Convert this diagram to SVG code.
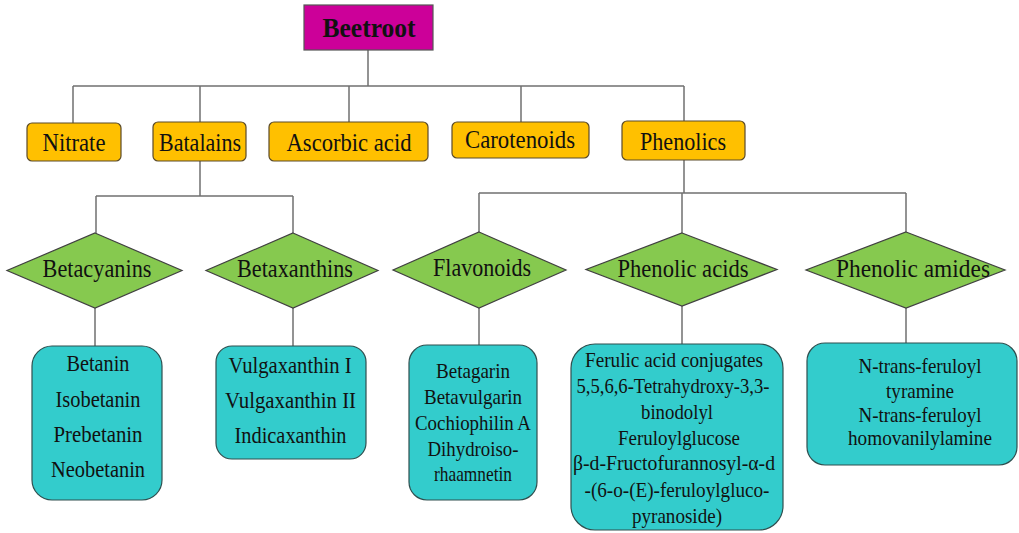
<svg xmlns="http://www.w3.org/2000/svg" width="1019" height="533" viewBox="0 0 1019 533">
<style>
.ln{stroke:#707070;stroke-width:1.5;fill:none}
.root{fill:#CC0099;stroke:#555;stroke-width:1.2}
.cat{fill:#FFC000;stroke:#5a4a2a;stroke-width:1.2}
.dia{fill:#86C94F;stroke:#404040;stroke-width:1.2}
.leaf{fill:#33CCCC;stroke:#2f4f4f;stroke-width:1.2}
text{font-family:"Liberation Serif","Times New Roman",serif;fill:#111;text-anchor:middle}
.t1{font-size:25px}
.t2{font-size:25px}
.t3{font-size:24px}
.t4{font-size:22px}
</style>
<rect width="1019" height="533" fill="#ffffff"/>
<g id="connectors">
<path class="ln" d="M368 50V86M73 86H684M73 86V123M200 86V122M349 86V122M521 86V122M684 86V121"/>
<path class="ln" d="M200 161V196M96 196H293M96 196V233M293 196V233"/>
<path class="ln" d="M684 160V193M479 193H906M479 193V232M682 193V233M906 193V232"/>
<path class="ln" d="M95 308V346M293 308V346M479 308V345M682 306V344M906 308V343"/>
</g>
<g id="beetroot"><rect class="root" x="304" y="5" width="129" height="45"/><text x="369" y="37" style="font-size:28px;font-weight:bold" textLength="93" lengthAdjust="spacingAndGlyphs">Beetroot</text></g>
<g id="nitrate"><rect class="cat" x="27" y="123" width="94" height="38" rx="5"/><text class="t1" x="74" y="151" textLength="63" lengthAdjust="spacingAndGlyphs">Nitrate</text></g>
<g id="batalains"><rect class="cat" x="153" y="122" width="93" height="39" rx="5"/><text class="t1" x="200" y="151" textLength="82" lengthAdjust="spacingAndGlyphs">Batalains</text></g>
<g id="ascorbic"><rect class="cat" x="269" y="122" width="159" height="39" rx="5"/><text class="t1" x="349" y="151" textLength="125" lengthAdjust="spacingAndGlyphs">Ascorbic acid</text></g>
<g id="carotenoids"><rect class="cat" x="452" y="122" width="137" height="36" rx="5"/><text class="t1" x="520" y="148" textLength="110" lengthAdjust="spacingAndGlyphs">Carotenoids</text></g>
<g id="phenolics"><rect class="cat" x="622" y="121" width="123" height="39" rx="5"/><text class="t1" x="683" y="150" textLength="86" lengthAdjust="spacingAndGlyphs">Phenolics</text></g>
<g id="betacyanins"><polygon class="dia" points="95,233 182,270.5 95,308 7,270.5"/><text class="t2" x="97" y="277" textLength="109" lengthAdjust="spacingAndGlyphs">Betacyanins</text></g>
<g id="betaxanthins"><polygon class="dia" points="293,233 378,270.5 293,308 206,270.5"/><text class="t2" x="295" y="277" textLength="116" lengthAdjust="spacingAndGlyphs">Betaxanthins</text></g>
<g id="flavonoids"><polygon class="dia" points="479,232 566,270 479,308 393,270"/><text class="t2" x="482" y="276" textLength="98" lengthAdjust="spacingAndGlyphs">Flavonoids</text></g>
<g id="phenolic-acids"><polygon class="dia" points="682,233 777,269.5 682,306 586,269.5"/><text class="t2" x="683" y="277" textLength="131" lengthAdjust="spacingAndGlyphs">Phenolic acids</text></g>
<g id="phenolic-amides"><polygon class="dia" points="906,232 1005,270 906,308 806,270"/><text class="t2" x="913" y="277" textLength="154" lengthAdjust="spacingAndGlyphs">Phenolic amides</text></g>
<g id="betacyanins-list"><rect class="leaf" x="32" y="346" width="130" height="154" rx="20"/>
<text class="t3" x="98" y="371" textLength="63" lengthAdjust="spacingAndGlyphs">Betanin</text><text class="t3" x="98" y="407" textLength="85" lengthAdjust="spacingAndGlyphs">Isobetanin</text><text class="t3" x="98" y="442" textLength="89" lengthAdjust="spacingAndGlyphs">Prebetanin</text><text class="t3" x="98" y="477" textLength="94" lengthAdjust="spacingAndGlyphs">Neobetanin</text></g>
<g id="betaxanthins-list"><rect class="leaf" x="216" y="346" width="150" height="113" rx="16"/>
<text class="t3" x="290" y="373" textLength="123" lengthAdjust="spacingAndGlyphs">Vulgaxanthin I</text><text class="t3" x="290.5" y="408" textLength="131" lengthAdjust="spacingAndGlyphs">Vulgaxanthin II</text><text class="t3" x="290.5" y="443" textLength="112" lengthAdjust="spacingAndGlyphs">Indicaxanthin</text></g>
<g id="flavonoids-list"><rect class="leaf" x="409" y="345" width="128" height="155" rx="18"/>
<text class="t4" x="473" y="378" textLength="74" lengthAdjust="spacingAndGlyphs">Betagarin</text><text class="t4" x="473" y="404" textLength="98" lengthAdjust="spacingAndGlyphs">Betavulgarin</text><text class="t4" x="473" y="430" textLength="116" lengthAdjust="spacingAndGlyphs">Cochiophilin A</text><text class="t4" x="473" y="456" textLength="91" lengthAdjust="spacingAndGlyphs">Dihydroiso-</text><text class="t4" x="473" y="481" textLength="78" lengthAdjust="spacingAndGlyphs">rhaamnetin</text></g>
<g id="phenolic-acids-list"><rect class="leaf" x="571" y="344" width="212" height="186" rx="24"/>
<text class="t4" x="674" y="367" textLength="178" lengthAdjust="spacingAndGlyphs">Ferulic acid conjugates</text><text class="t4" x="673" y="393" textLength="193" lengthAdjust="spacingAndGlyphs">5,5,6,6-Tetrahydroxy-3,3-</text><text class="t4" x="677" y="419" textLength="72" lengthAdjust="spacingAndGlyphs">binodolyl</text><text class="t4" x="679" y="445" textLength="122" lengthAdjust="spacingAndGlyphs">Feruloylglucose</text><text class="t4" x="674" y="470" textLength="202" lengthAdjust="spacingAndGlyphs">β-d-Fructofurannosyl-α-d</text><text class="t4" x="677" y="497" textLength="185" lengthAdjust="spacingAndGlyphs">-(6-o-(E)-feruloylgluco-</text><text class="t4" x="677" y="523" textLength="90" lengthAdjust="spacingAndGlyphs">pyranoside)</text></g>
<g id="phenolic-amides-list"><rect class="leaf" x="807" y="343" width="210" height="122" rx="18"/>
<text class="t4" x="920" y="373" textLength="123" lengthAdjust="spacingAndGlyphs">N-trans-feruloyl</text><text class="t4" x="920" y="398" textLength="68" lengthAdjust="spacingAndGlyphs">tyramine</text><text class="t4" x="920" y="422" textLength="123" lengthAdjust="spacingAndGlyphs">N-trans-feruloyl</text><text class="t4" x="920" y="445" textLength="144" lengthAdjust="spacingAndGlyphs">homovanilylamine</text></g>
</svg>
